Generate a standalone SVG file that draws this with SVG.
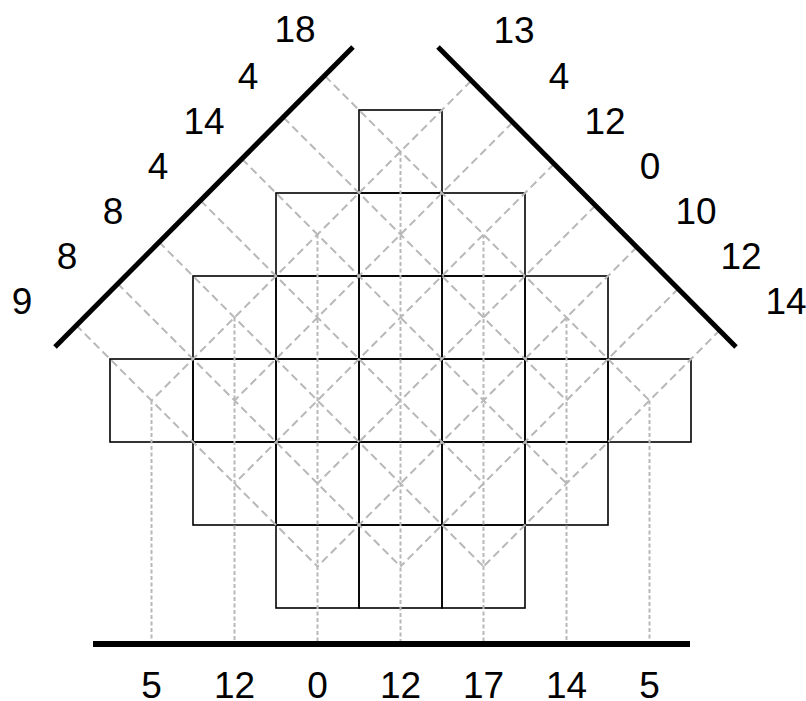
<svg xmlns="http://www.w3.org/2000/svg" width="806" height="701" viewBox="0 0 806 701">
<style>
.cell{fill:none;stroke:#000;stroke-width:1.6}
.axis{stroke:#000;stroke-width:5;stroke-linecap:butt}
.diag{stroke:#b8b8b8;stroke-width:2;stroke-dasharray:8 4.5;fill:none}
.vert{stroke:#b8b8b8;stroke-width:2;stroke-dasharray:4 2.5;fill:none}
.num{font-family:"Liberation Sans",Arial,sans-serif;font-size:37px;fill:#000;text-anchor:middle}
</style>
<rect width="806" height="701" fill="#fff"/>
<g id="cells">
<g id="c3_0"><rect class="cell" x="359" y="110" width="83" height="83"/></g>
<g id="c2_1"><rect class="cell" x="276" y="193" width="83" height="83"/></g>
<g id="c3_1"><rect class="cell" x="359" y="193" width="83" height="83"/></g>
<g id="c4_1"><rect class="cell" x="442" y="193" width="83" height="83"/></g>
<g id="c1_2"><rect class="cell" x="193" y="276" width="83" height="83"/></g>
<g id="c2_2"><rect class="cell" x="276" y="276" width="83" height="83"/></g>
<g id="c3_2"><rect class="cell" x="359" y="276" width="83" height="83"/></g>
<g id="c4_2"><rect class="cell" x="442" y="276" width="83" height="83"/></g>
<g id="c5_2"><rect class="cell" x="525" y="276" width="83" height="83"/></g>
<g id="c0_3"><rect class="cell" x="110" y="359" width="83" height="83"/></g>
<g id="c1_3"><rect class="cell" x="193" y="359" width="83" height="83"/></g>
<g id="c2_3"><rect class="cell" x="276" y="359" width="83" height="83"/></g>
<g id="c3_3"><rect class="cell" x="359" y="359" width="83" height="83"/></g>
<g id="c4_3"><rect class="cell" x="442" y="359" width="83" height="83"/></g>
<g id="c5_3"><rect class="cell" x="525" y="359" width="83" height="83"/></g>
<g id="c6_3"><rect class="cell" x="608" y="359" width="83" height="83"/></g>
<g id="c1_4"><rect class="cell" x="193" y="442" width="83" height="83"/></g>
<g id="c2_4"><rect class="cell" x="276" y="442" width="83" height="83"/></g>
<g id="c3_4"><rect class="cell" x="359" y="442" width="83" height="83"/></g>
<g id="c4_4"><rect class="cell" x="442" y="442" width="83" height="83"/></g>
<g id="c5_4"><rect class="cell" x="525" y="442" width="83" height="83"/></g>
<g id="c2_5"><rect class="cell" x="276" y="525" width="83" height="83"/></g>
<g id="c3_5"><rect class="cell" x="359" y="525" width="83" height="83"/></g>
<g id="c4_5"><rect class="cell" x="442" y="525" width="83" height="83"/></g>
</g>
<g id="connectors">
<line class="diag" x1="325" y1="76" x2="649.5" y2="400.5"/>
<line class="diag" x1="283.5" y1="117.5" x2="566.5" y2="400.5"/>
<line class="diag" x1="242" y1="159" x2="566.5" y2="483.5"/>
<line class="diag" x1="200.5" y1="200.5" x2="483.5" y2="483.5"/>
<line class="diag" x1="159" y1="242" x2="483.5" y2="566.5"/>
<line class="diag" x1="117.5" y1="283.5" x2="400.5" y2="566.5"/>
<line class="diag" x1="76" y1="325" x2="317.5" y2="566.5"/>
<line class="diag" x1="471" y1="81" x2="151.5" y2="400.5"/>
<line class="diag" x1="512.5" y1="122.5" x2="234.5" y2="400.5"/>
<line class="diag" x1="554" y1="164" x2="234.5" y2="483.5"/>
<line class="diag" x1="595.5" y1="205.5" x2="317.5" y2="483.5"/>
<line class="diag" x1="637" y1="247" x2="317.5" y2="566.5"/>
<line class="diag" x1="678.5" y1="288.5" x2="400.5" y2="566.5"/>
<line class="diag" x1="720" y1="330" x2="483.5" y2="566.5"/>
<line class="vert" x1="151.5" y1="400.5" x2="151.5" y2="641"/>
<line class="vert" x1="234.5" y1="317.5" x2="234.5" y2="641"/>
<line class="vert" x1="317.5" y1="234.5" x2="317.5" y2="641"/>
<line class="vert" x1="400.5" y1="151.5" x2="400.5" y2="641"/>
<line class="vert" x1="483.5" y1="234.5" x2="483.5" y2="641"/>
<line class="vert" x1="566.5" y1="317.5" x2="566.5" y2="641"/>
<line class="vert" x1="649.5" y1="400.5" x2="649.5" y2="641"/>
</g>
<g id="axes">
<line class="axis" x1="55" y1="347" x2="353" y2="47"/>
<line class="axis" x1="438" y1="47" x2="736" y2="347"/>
<line class="axis" x1="93" y1="644" x2="690" y2="644" style="stroke-width:6"/>
</g>
<g id="labels-left">
<text class="num" x="295" y="42">18</text>
<text class="num" x="248" y="89">4</text>
<text class="num" x="204" y="134">14</text>
<text class="num" x="158" y="179">4</text>
<text class="num" x="113" y="224">8</text>
<text class="num" x="67" y="269">8</text>
<text class="num" x="22" y="314">9</text>
</g>
<g id="labels-right">
<text class="num" x="514" y="43">13</text>
<text class="num" x="559" y="89">4</text>
<text class="num" x="605" y="134">12</text>
<text class="num" x="650" y="179">0</text>
<text class="num" x="696" y="224">10</text>
<text class="num" x="741" y="269">12</text>
<text class="num" x="786" y="314">14</text>
</g>
<g id="labels-bottom">
<text class="num" x="151.5" y="698">5</text>
<text class="num" x="234.5" y="698">12</text>
<text class="num" x="317.5" y="698">0</text>
<text class="num" x="400.5" y="698">12</text>
<text class="num" x="483.5" y="698">17</text>
<text class="num" x="566.5" y="698">14</text>
<text class="num" x="649.5" y="698">5</text>
</g>
</svg>
